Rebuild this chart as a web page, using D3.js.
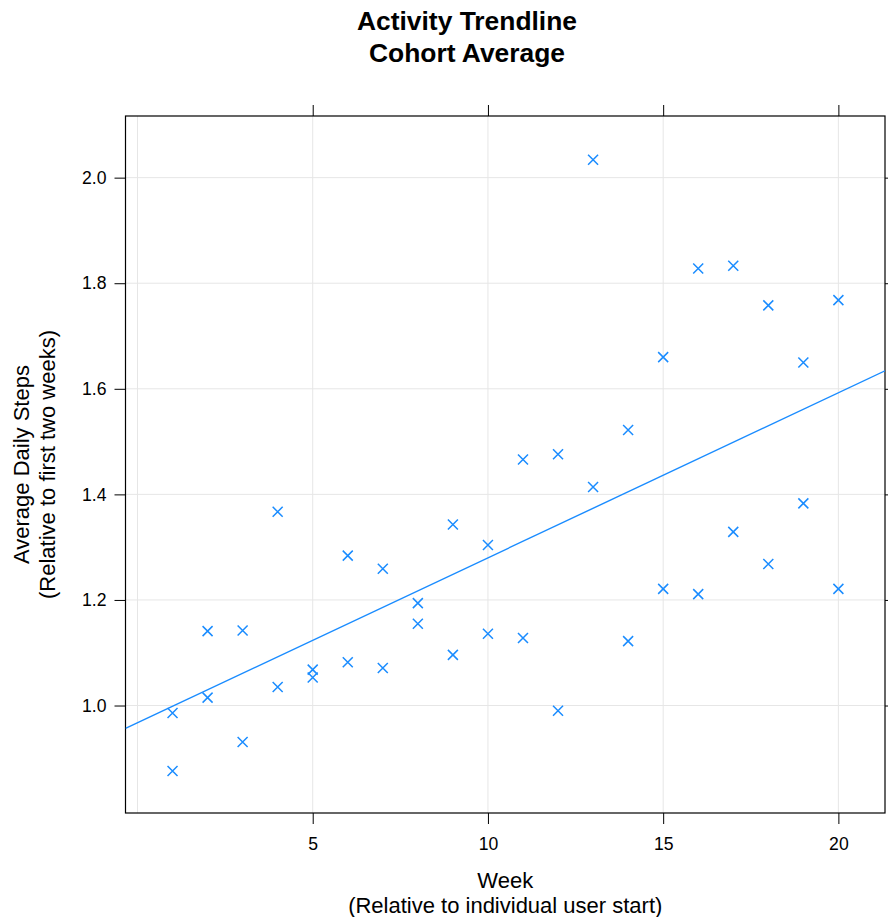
<!DOCTYPE html>
<html>
<head>
<meta charset="utf-8">
<script src="https://cdn.jsdelivr.net/npm/d3@7"></script>
<style>
  body { margin: 0; background: #fff; }
  svg { display: block; font-family: "Liberation Sans", Arial, Helvetica, sans-serif; }
</style>
</head>
<body>
<svg id="svg" width="888" height="917"></svg>
<script>
// weeks 1..20, two cohort values per week
const weeks = [1, 2, 3, 4, 5, 6, 7, 8, 9, 10, 11, 12, 13, 14, 15, 16, 17, 18, 19, 20]
const upperValues = [0.986, 1.141, 1.142, 1.367, 1.068, 1.284, 1.259, 1.194, 1.343, 1.304,
  1.466, 1.476, 2.034, 1.522, 1.660, 1.828, 1.833, 1.758, 1.650, 1.768]
const lowerValues = [0.876, 1.015, 0.931, 1.035, 1.053, 1.082, 1.071, 1.155, 1.096, 1.136,
  1.128, 0.990, 1.414, 1.122, 1.221, 1.211, 1.329, 1.268, 1.383, 1.221]
const xTicks = [5, 10, 15, 20]
const xGrid = [0, 5, 10, 15, 20]
const yTicks = [1.0, 1.2, 1.4, 1.6, 1.8, 2.0]

const points = weeks.flatMap((w, i) => [
  { week: w, value: upperValues[i] },
  { week: w, value: lowerValues[i] }
])

// least squares fit
const mx = d3.mean(points, d => d.week)
const my = d3.mean(points, d => d.value)
const slope = d3.sum(points, d => (d.week - mx) * (d.value - my)) /
  d3.sum(points, d => (d.week - mx) ** 2)
const intercept = my - slope * mx

const panelLeft = 125.5
const panelRight = 885
const panelTop = 116
const panelBottom = 813
const color = '#1a8cff'

const xScale = d3.scaleLinear()
  .domain([-0.342, 21.33])
  .range([panelLeft, panelRight])

const yScale = d3.scaleLinear()
  .domain([0.7964, 2.1168])
  .range([panelBottom, panelTop])

const svg = d3.select('#svg')

svg.append('clipPath')
  .attr('id', 'panel')
  .append('rect')
  .attr('x', panelLeft)
  .attr('y', panelTop)
  .attr('width', panelRight - panelLeft)
  .attr('height', panelBottom - panelTop)

// grid
const grid = svg.append('g')
  .attr('stroke', '#e6e6e6')
  .attr('stroke-width', 1)

grid.selectAll('.vgrid')
  .data(xGrid)
  .join('line')
  .attr('class', 'vgrid')
  .attr('x1', d => xScale(d))
  .attr('x2', d => xScale(d))
  .attr('y1', panelTop)
  .attr('y2', panelBottom)

grid.selectAll('.hgrid')
  .data(yTicks)
  .join('line')
  .attr('class', 'hgrid')
  .attr('x1', panelLeft)
  .attr('x2', panelRight)
  .attr('y1', d => yScale(d))
  .attr('y2', d => yScale(d))

// axes
const xAxisBottom = d3.axisBottom(xScale).tickValues(xTicks).tickSize(11).tickPadding(14)
const xAxisTop = d3.axisTop(xScale).tickValues(xTicks).tickSize(11).tickFormat('')
const yAxisLeft = d3.axisLeft(yScale).tickValues(yTicks).tickSize(11).tickPadding(8).tickFormat(d3.format('.1f'))
const yAxisRight = d3.axisRight(yScale).tickValues(yTicks).tickSize(11).tickFormat('')

const styleAxis = (g) => {
  g.select('.domain').remove()
  g.selectAll('.tick line').attr('stroke', '#000')
  g.selectAll('.tick text')
    .attr('fill', '#000')
    .attr('font-size', '17.6px')
    .attr('font-family', '"Liberation Sans", Arial, Helvetica, sans-serif')
}

svg.append('g')
  .attr('transform', `translate(0, ${panelBottom})`)
  .call(xAxisBottom)
  .call(styleAxis)

svg.append('g')
  .attr('transform', `translate(0, ${panelTop})`)
  .call(xAxisTop)
  .call(styleAxis)

svg.append('g')
  .attr('transform', `translate(${panelLeft}, 0)`)
  .call(yAxisLeft)
  .call(styleAxis)

svg.append('g')
  .attr('transform', `translate(${panelRight}, 0)`)
  .call(yAxisRight)
  .call(styleAxis)

svg.append('rect')
  .attr('x', panelLeft)
  .attr('y', panelTop)
  .attr('width', panelRight - panelLeft)
  .attr('height', panelBottom - panelTop)
  .attr('fill', 'none')
  .attr('stroke', '#000')
  .attr('stroke-width', 1.2)

// trend line
const [x0, x1] = xScale.domain()
svg.append('line')
  .attr('clip-path', 'url(#panel)')
  .attr('x1', xScale(x0))
  .attr('y1', yScale(intercept + slope * x0))
  .attr('x2', xScale(x1))
  .attr('y2', yScale(intercept + slope * x1))
  .attr('stroke', color)
  .attr('stroke-width', 1.4)

// points as crosses
const s = 5
svg.append('g')
  .selectAll('path')
  .data(points)
  .join('path')
  .attr('d', d => {
    const cx = xScale(d.week)
    const cy = yScale(d.value)
    return `M${cx - s},${cy - s}L${cx + s},${cy + s}M${cx - s},${cy + s}L${cx + s},${cy - s}`
  })
  .attr('stroke', color)
  .attr('stroke-width', 1.5)
  .attr('fill', 'none')

// titles
svg.append('text')
  .attr('x', 467)
  .attr('y', 30)
  .attr('text-anchor', 'middle')
  .attr('font-size', '26.4px')
  .attr('font-weight', 'bold')
  .text('Activity Trendline')

svg.append('text')
  .attr('x', 467)
  .attr('y', 62)
  .attr('text-anchor', 'middle')
  .attr('font-size', '26.4px')
  .attr('font-weight', 'bold')
  .text('Cohort Average')

const midX = (panelLeft + panelRight) / 2
svg.append('text')
  .attr('x', midX)
  .attr('y', 888)
  .attr('text-anchor', 'middle')
  .attr('font-size', '22px')
  .text('Week')

svg.append('text')
  .attr('x', midX)
  .attr('y', 913)
  .attr('text-anchor', 'middle')
  .attr('font-size', '22px')
  .text('(Relative to individual user start)')

const midY = (panelTop + panelBottom) / 2
svg.append('text')
  .attr('transform', `translate(29, ${midY}) rotate(-90)`)
  .attr('text-anchor', 'middle')
  .attr('font-size', '22px')
  .text('Average Daily Steps')

svg.append('text')
  .attr('transform', `translate(55, ${midY}) rotate(-90)`)
  .attr('text-anchor', 'middle')
  .attr('font-size', '22px')
  .text('(Relative to first two weeks)')
</script>
</body>
</html>
